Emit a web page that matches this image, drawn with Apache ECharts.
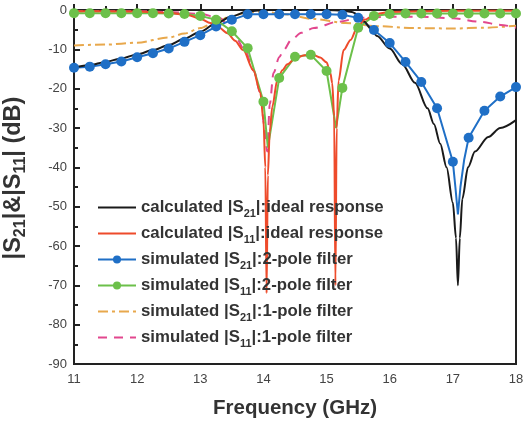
<!DOCTYPE html>
<html>
<head>
<meta charset="utf-8">
<script src="https://cdn.jsdelivr.net/npm/echarts@6/dist/echarts.min.js"></script>
<style>
  html, body { margin: 0; padding: 0; background: #fff; }
  #chart { width: 528px; height: 424px; }
</style>
</head>
<body>
<div id="chart"></div>
<script>
// calculated |S21| ideal response
const calcS21Freq = [11, 11.25, 11.5, 11.75, 12, 12.25, 12.5, 12.75, 13, 13.25, 13.5, 13.75, 14, 14.5, 15, 15.25, 15.4, 15.5, 15.6, 15.7,
  15.8, 16, 16.2, 16.4, 16.6, 16.7, 16.8, 16.9, 17, 17.05, 17.08, 17.11, 17.15, 17.24, 17.35, 17.56, 17.75, 18];
const calcS21 = [-14.7, -14.0, -13.2, -12.3, -11.3, -10.2, -8.9, -7.3, -5.5, -3.4, -1.6, -0.4, 0, 0, 0, -0.1, -0.5, -1.2, -3.0, -4.8,
  -6.6, -9.8, -13.8, -18.5, -25, -29, -34, -40, -49, -58, -70, -58, -48, -40, -36, -32.3, -30, -28];

// calculated |S11| ideal response
const calcS11Freq = [11, 11.5, 12, 12.5, 12.8, 13, 13.16, 13.3, 13.43, 13.55, 13.68, 13.84, 13.95, 14, 14.03, 14.05, 14.07, 14.1, 14.14, 14.22,
  14.3, 14.38, 14.5, 14.65, 14.8, 14.9, 15, 15.06, 15.09, 15.12, 15.14, 15.16, 15.19, 15.27, 15.38, 15.49, 15.6, 15.75, 15.86, 16,
  16.5, 17, 18];
const calcS11 = [-0.3, -0.3, -0.4, -0.7, -1.3, -2.2, -3.3, -4.5, -5.9, -7.8, -10.2, -15.3, -21, -28, -40, -72, -42, -31, -24.6, -17.8,
  -15.3, -13.8, -12.3, -11.5, -11.5, -12.1, -13.3, -16, -18.6, -27, -70, -30, -18, -10.2, -7.6, -4.3, -2.5, -1.3, -0.8, -0.5,
  -0.3, -0.2, -0.2];

// simulated |S21| 2-pole filter
const sim2S21Freq = [11, 11.25, 11.5, 11.75, 12, 12.25, 12.5, 12.75, 13, 13.25, 13.5, 13.75, 14, 14.25, 14.5, 14.75, 15, 15.25, 15.5, 15.75,
  16, 16.25, 16.5, 16.75, 17, 17.04, 17.08, 17.12, 17.18, 17.25, 17.5, 17.75, 18];
const sim2S21 = [-14.7, -14.4, -13.8, -13.1, -12.0, -11.0, -9.8, -8.1, -6.4, -4.2, -2.5, -1.1, -1.1, -1.1, -1.1, -1.1, -1.1, -1.2, -2.0, -5.1,
  -8.4, -13.2, -18.3, -25.0, -38.6, -45, -52, -45, -38, -32.5, -25.6, -22.0, -19.6];

// simulated |S11| 2-pole filter
const sim2S11Freq = [11, 11.25, 11.5, 11.75, 12, 12.25, 12.5, 12.75, 13, 13.25, 13.5, 13.75, 14, 14.07, 14.25, 14.5, 14.75, 15, 15.15, 15.25,
  15.5, 15.75, 16, 16.25, 16.5, 16.75, 17, 17.25, 17.5, 17.75, 18];
const sim2S11 = [-0.8, -0.8, -0.8, -0.8, -0.8, -0.8, -0.9, -1.0, -1.5, -2.5, -5.4, -9.7, -23.3, -35, -17.3, -11.9, -11.4, -15.5, -30, -19.8,
  -4.5, -1.5, -1.0, -0.9, -0.9, -0.9, -0.9, -0.9, -0.9, -0.9, -0.9];

// simulated |S21| 1-pole filter
const sim1S21Freq = [11, 11.5, 12, 12.5, 12.75, 13, 13.25, 13.5, 13.75, 14, 14.3, 14.8, 15.3, 15.8, 16.4, 17, 17.5, 18];
const sim1S21 = [-9.0, -8.8, -8.3, -7.0, -6.0, -4.6, -3.0, -1.5, -0.6, -0.4, -1.0, -2.3, -3.3, -4.1, -4.6, -4.7, -4.5, -4.0];

// simulated |S11| 1-pole filter
const sim1S11Freq = [11, 12, 12.5, 13, 13.3, 13.5, 13.7, 13.85, 13.95, 14.01, 14.06, 14.1, 14.16, 14.25, 14.32, 14.44, 14.6, 14.8, 15.17, 15.54,
  16, 16.5, 17, 17.44, 17.76, 18];
const sim1S11 = [-0.3, -0.3, -0.5, -1.0, -2.0, -5.0, -10.0, -15.5, -21, -29, -36, -24, -16, -12, -10.2, -7.6, -5.8, -4.6, -3.0, -2.0,
  -1.7, -1.7, -2.1, -3.0, -3.8, -4.5];

const names = [
  'calculated |S21|:ideal response',
  'calculated |S11|:ideal response',
  'simulated |S21|:2-pole filter',
  'simulated |S11|:2-pole filter',
  'simulated |S21|:1-pole filter',
  'simulated |S11|:1-pole filter'
];
const withDots = [false, false, true, true, false, false];

const FONT = 'Liberation Sans, Arial, Helvetica, sans-serif';

const pairs = (xs, ys) => xs.map((x, i) => [x, ys[i]]);
// markers only on the 0.25 GHz simulation grid
const withMarkers = (xs, ys) =>
  xs.map((x, i) => {
    const onGrid = Math.abs(x * 4 - Math.round(x * 4)) < 1e-6;
    return onGrid ? [x, ys[i]] : { value: [x, ys[i]], symbol: 'none' };
  });

const richLabel = name =>
  '{b|' + name.replace(/S(\d\d)/, 'S}{sub|$1}{b|') + '}';

const chart = echarts.init(document.getElementById('chart'));

chart.setOption({
  animation: false,
  textStyle: { fontFamily: FONT },
  grid: {
    left: 74,
    right: 12,
    top: 10,
    bottom: 60,
    outerBoundsMode: 'none',
    containLabel: false,
    show: true,
    borderColor: '#222',
    borderWidth: 2
  },
  legend: {
    data: names.map((n, i) => (withDots[i] ? n : { name: n, itemStyle: { opacity: 0 } })),
    orient: 'vertical',
    left: 97,
    top: 199,
    padding: 0,
    itemWidth: 38,
    itemHeight: 10,
    itemGap: 6,
    formatter: richLabel,
    textStyle: {
      rich: {
        b: { fontSize: 16.8, fontWeight: 'bold', color: '#333', fontFamily: FONT, lineHeight: 21 },
        sub: { fontSize: 11, fontWeight: 'bold', color: '#333', fontFamily: FONT, padding: [12, 0, 0, 0] }
      }
    }
  },
  xAxis: {
    type: 'value',
    min: 11,
    max: 18,
    interval: 1,
    name: 'Frequency (GHz)',
    nameLocation: 'middle',
    nameGap: 34,
    nameTextStyle: { fontSize: 20.5, fontWeight: 'bold', color: '#333', fontFamily: FONT },
    axisLine: { lineStyle: { color: '#222', width: 2 } },
    axisTick: { inside: true, length: 6, lineStyle: { color: '#222', width: 2 } },
    minorTick: { show: true, splitNumber: 2, length: 4, lineStyle: { color: '#222', width: 2 } },
    axisLabel: { fontSize: 13, color: '#444', margin: 9 },
    splitLine: { show: false }
  },
  yAxis: {
    type: 'value',
    min: -90,
    max: 0,
    interval: 10,
    name: '{b||S}{sub|21}{b||&|S}{sub|11}{b|| (dB)}',
    nameLocation: 'middle',
    nameGap: 45,
    nameRotate: 90,
    nameTextStyle: {
      padding: [0, 0, 0, 18],
      rich: {
        b: { fontSize: 23.5, fontWeight: 'bold', color: '#333', fontFamily: FONT },
        sub: { fontSize: 16, fontWeight: 'bold', color: '#333', fontFamily: FONT, padding: [15, 0, 0, 0] }
      }
    },
    axisLine: { lineStyle: { color: '#222', width: 2 } },
    axisTick: { inside: true, length: 6, lineStyle: { color: '#222', width: 2 } },
    minorTick: { show: true, splitNumber: 2, length: 4, lineStyle: { color: '#222', width: 2 } },
    axisLabel: { fontSize: 13, color: '#444', margin: 7 },
    splitLine: { show: false }
  },
  series: [
    {
      name: names[4],
      type: 'line',
      data: pairs(sim1S21Freq, sim1S21),
      smooth: 0.3,
      smoothMonotone: 'x',
      symbol: 'none',
      color: '#e8a84c',
      lineStyle: { width: 2, type: [10, 4, 3, 4] }
    },
    {
      name: names[5],
      type: 'line',
      data: pairs(sim1S11Freq, sim1S11),
      smooth: 0.3,
      smoothMonotone: 'x',
      symbol: 'none',
      color: '#e2478e',
      lineStyle: { width: 2, type: [9, 7] }
    },
    {
      name: names[2],
      type: 'line',
      data: withMarkers(sim2S21Freq, sim2S21),
      symbol: 'circle',
      symbolSize: 10,
      showAllSymbol: true,
      color: '#1f6fc6',
      lineStyle: { width: 2 }
    },
    {
      name: names[3],
      type: 'line',
      data: withMarkers(sim2S11Freq, sim2S11),
      symbol: 'circle',
      symbolSize: 10,
      showAllSymbol: true,
      color: '#6cc04a',
      lineStyle: { width: 2 }
    },
    {
      name: names[0],
      type: 'line',
      data: pairs(calcS21Freq, calcS21),
      smooth: 0.3,
      smoothMonotone: 'x',
      symbol: 'none',
      color: '#1a1a1a',
      lineStyle: { width: 2 }
    },
    {
      name: names[1],
      type: 'line',
      data: pairs(calcS11Freq, calcS11),
      smooth: 0.3,
      smoothMonotone: 'x',
      symbol: 'none',
      color: '#ee4b2b',
      lineStyle: { width: 2 }
    }
  ]
});
</script>
</body>
</html>
